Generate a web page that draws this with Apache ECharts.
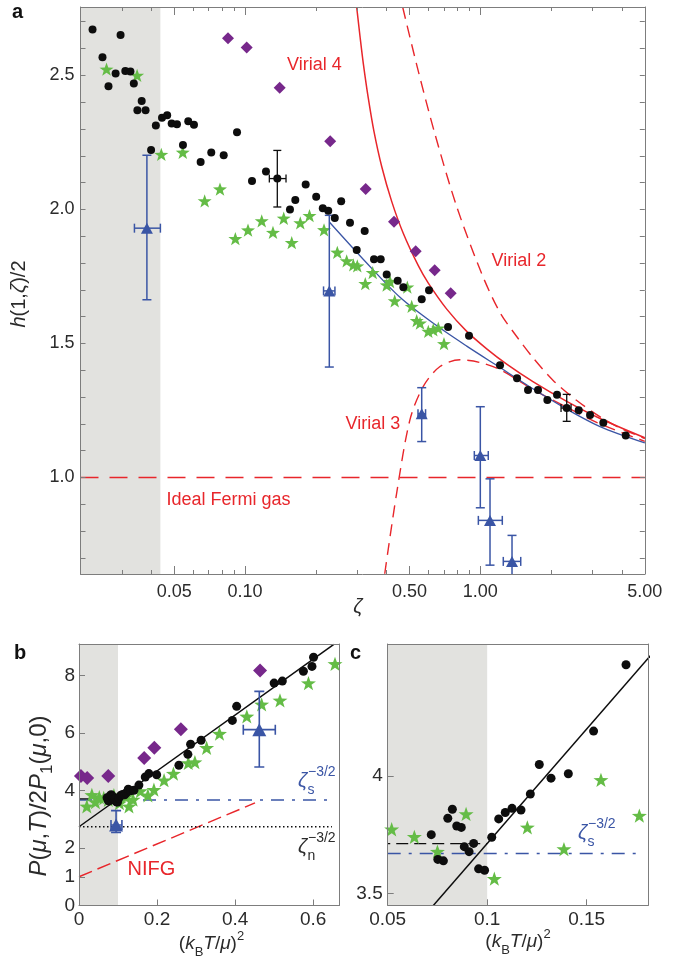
<!DOCTYPE html>
<html><head><meta charset="utf-8">
<script src="https://cdn.jsdelivr.net/npm/echarts@6/dist/echarts.min.js"></script>
<style>html,body{margin:0;padding:0;background:#fff}#c{width:679px;height:956px}</style>
</head><body><div id="c"></div>
<script>
// ---------- Panel a data: [zeta, h/2] ----------
const aBlack = [[0.0225,2.671],[0.0296,2.651],[0.0248,2.568],[0.0282,2.507],[0.0263,2.459],[0.0310,2.516],[0.0326,2.514],[0.0337,2.470],[0.0364,2.404],[0.0349,2.370],[0.0378,2.370],[0.0418,2.313],[0.0444,2.342],[0.0467,2.351],[0.0488,2.320],[0.0514,2.318],[0.0574,2.329],[0.0607,2.316],[0.0399,2.222],[0.0545,2.240],[0.0648,2.177],[0.0719,2.212],[0.0812,2.202],[0.0925,2.288],[0.1071,2.106],[0.1228,2.141],[0.1811,2.093],[0.1636,2.035],[0.1553,2.000],[0.2007,2.047],[0.2141,2.004],[0.2259,1.995],[0.2408,1.968],[0.2563,2.030],[0.2794,1.950],[0.3226,1.919],[0.2984,1.849],[0.3534,1.814],[0.3773,1.814],[0.4001,1.757],[0.4456,1.734],[0.4709,1.710],[0.6053,1.698],[0.5636,1.665],[0.7292,1.561],[0.8953,1.529],[1.2126,1.419],[1.4322,1.370],[1.5948,1.326],[1.759,1.326],[1.927,1.289],[2.118,1.309],[2.619,1.251],[2.926,1.233],[3.332,1.204],[4.149,1.157]];
// [zeta, v, zetaLo, zetaHi, vLo, vHi]
const aBlackErr = [[0.1372,2.115,0.1269,0.1494,2.009,2.220],[2.329,1.259,2.203,2.43,1.2095,1.31]];
const aStars = [[0.0258,2.523],[0.0348,2.500],[0.0441,2.205],[0.0544,2.213],[0.0674,2.032],[0.0783,2.076],[0.0910,1.891],[0.1030,1.923],[0.1178,1.957],[0.1315,1.914],[0.1461,1.967],[0.1580,1.876],[0.1718,1.950],[0.1880,1.977],[0.2167,1.924],[0.2468,1.840],[0.2705,1.808],[0.2886,1.793],[0.3001,1.789],[0.3489,1.764],[0.3245,1.723],[0.4001,1.718],[0.4132,1.731],[0.4896,1.710],[0.4327,1.659],[0.5110,1.638],[0.5366,1.585],[0.5543,1.576],[0.6012,1.545],[0.6313,1.551],[0.6629,1.557],[0.7008,1.499]];
const aDiamonds = [[0.0847,2.638],[0.1017,2.604],[0.1404,2.454],[0.2302,2.254],[0.3258,2.076],[0.4298,1.954],[0.5314,1.844],[0.6399,1.773],[0.7485,1.687]];
const aTriangles = [[0.0383,1.930,0.0339,0.0437,1.663,2.202],[0.2282,1.696,0.2157,0.2411,1.412,1.978],[0.5636,1.238,0.5435,0.5853,1.134,1.335],[1.000,1.082,0.943,1.081,0.887,1.264],[1.0995,0.840,0.981,1.240,0.673,0.995],[1.3637,0.687,1.252,1.485,0.55,0.784]];
const virial4 = [[0.2984,2.753],[0.3082,2.645],[0.3182,2.545],[0.3342,2.415],[0.3534,2.290],[0.381,2.160],[0.4201,2.030],[0.4709,1.910],[0.5451,1.790],[0.6012,1.725],[0.72,1.628],[0.8755,1.545],[1.0646,1.480],[1.2944,1.423],[1.68,1.357],[2.329,1.284],[3.227,1.220],[5.0,1.148]];
const virial2 = [[0.468,2.754],[0.54,2.530],[0.642,2.280],[0.794,2.010],[1.014,1.760],[1.213,1.615],[1.43,1.525],[1.68,1.445],[2.04,1.362],[2.57,1.287],[3.23,1.226],[3.92,1.185],[5.0,1.145]];
const virial3 = [[0.3925,0.641],[0.4413,0.943],[0.5025,1.216],[0.5725,1.34],[0.674,1.414],[0.82,1.439],[0.997,1.429],[1.213,1.402],[1.68,1.328],[2.329,1.262],[3.227,1.200],[5.0,1.135]];
const theoryBlue = [[0.2282,1.953],[0.329,1.800],[0.4557,1.672],[0.6313,1.575],[0.8755,1.490],[1.213,1.410],[1.68,1.330],[2.329,1.255],[3.227,1.190],[5.0,1.129]];
const idealFermi = [[0.02,1.0],[5.0,1.0]];
const aShade = [0.02,0.0437];
const aXMajor = [0.05,0.1,0.5,1,5];
const aXMinor = [0.03,0.04,0.06,0.07,0.08,0.09,0.2,0.3,0.4,0.6,0.7,0.8,0.9,2,3,4];
const aYLabels = [1.0,1.5,2.0,2.5];
const aYTicks = [0.7,0.8,0.9,1.0,1.1,1.2,1.3,1.4,1.5,1.6,1.7,1.8,1.9,2.0,2.1,2.2,2.3,2.4,2.5,2.6,2.7];

// ---------- Panel c data: [(kT/mu)^2, P/2P1] ----------
const cBlack = [[0.0719,3.750],[0.0752,3.645],[0.0780,3.639],[0.0802,3.820],[0.0825,3.858],[0.0847,3.787],[0.0870,3.781],[0.0885,3.699],[0.0909,3.678],[0.0932,3.713],[0.0957,3.605],[0.0987,3.599],[0.1023,3.739],[0.1058,3.817],[0.1091,3.844],[0.1125,3.862],[0.1170,3.855],[0.1217,3.923],[0.1262,4.048],[0.1321,3.990],[0.1408,4.009],[0.1535,4.190],[0.1698,4.472]];
const cStars = [[0.0520,3.773],[0.0634,3.741],[0.0750,3.678],[0.0894,3.838],[0.1036,3.563],[0.1202,3.781],[0.1386,3.689],[0.1572,3.983],[0.1765,3.831]];
// ---------- Panel b extra data ----------
const bBlackExtra = [[0.179,4.59],[0.199,4.55],[0.256,4.88],[0.279,5.26],[0.286,5.61],[0.313,5.75],[0.393,6.44],[0.404,6.93],[0.500,7.74],[0.521,7.81],[0.575,8.15],[0.597,8.32],[0.601,8.64]];
const bStarsExtra = [[0.020,3.45],[0.033,3.85],[0.042,3.60],[0.128,3.45],[0.192,4.03],[0.218,4.36],[0.242,4.59],[0.280,4.96],[0.297,4.99],[0.327,5.49],[0.360,5.98],[0.430,6.58],[0.468,7.00],[0.515,7.14],[0.588,7.74],[0.656,8.41]];
const bDiamonds = [[0.005,4.51],[0.021,4.44],[0.075,4.51],[0.167,5.13],[0.193,5.49],[0.261,6.13],[0.464,8.18]];
const bTriangles = [[0.095,2.8,0.082,0.11,2.54,3.3],[0.462,6.12,0.421,0.503,4.82,7.45]];
const fitLine = [[0,2.74],[0.653,9.09]];
const lowTLine = [[0,3.712],[0.1,3.712]];
const zetaSLineB = [[0,3.67],[0.65,3.67]];
const zetaSLineC = [[0.05,3.67],[0.178,3.67]];
const zetaNLine = [[0,2.74],[0.648,2.74]];
const nifgLine = [[0,1.0],[0.451,3.57]];
const bShade = [0,0.1];
const cShade = [0.05,0.1];
const bXLabels = [0,0.2,0.4,0.6];
const bYLabels = [0,1,2,4,6,8];
const cXLabels = [0.05,0.1,0.15];
const cYLabels = [3.5,4];

const L = Math.log10;
const FONT = '"Liberation Sans", Arial, Helvetica, sans-serif';
const RED='#e8262b', BLUE='#3a55a5', GREEN='#64bc46', PURPLE='#77288b', BLACK='#0d0d0d', GRAYBG='#e2e2df', AX='#7d7d7d', TXT='#2b2b2b';
const STAR='path://M0,-10L2.35,-3.24L9.51,-3.09L3.8,1.24L5.88,8.09L0,4L-5.88,8.09L-3.8,1.24L-9.51,-3.09L-2.35,-3.24Z';
const lg = arr => arr.map(p => [L(p[0]), p[1]]);

function xAx(grid, pos, min, max, o) {
  return Object.assign({gridIndex:grid, type:'value', position:pos, min:min, max:max, z:10,
    axisLine:{show:true, onZero:false, lineStyle:{color:AX, width:1}},
    axisTick:{show:false}, axisLabel:{show:false}, splitLine:{show:false}}, o||{});
}
function yAx(grid, pos, min, max, o) {
  return Object.assign({gridIndex:grid, type:'value', position:pos, min:min, max:max, z:10,
    axisLine:{show:true, onZero:false, lineStyle:{color:AX, width:1}},
    axisTick:{show:false}, axisLabel:{show:false}, splitLine:{show:false}}, o||{});
}
const tick = (vals, len) => ({show:true, inside:true, length:len, customValues:vals, lineStyle:{color:AX, width:1}});
const lab = (vals, fmt, size, margin) => ({show:true, customValues:vals, formatter:fmt, fontSize:size, color:TXT, fontFamily:FONT, margin:margin});

const xAxes = [
  xAx(0,'bottom',L(0.02),L(5),{axisTick:tick(aXMajor.map(L),8), axisLabel:lab(aXMajor.map(L), v=>Math.pow(10,v).toFixed(2), 18, 9)}),
  xAx(0,'bottom',L(0.02),L(5),{axisLine:{show:false}, axisTick:tick(aXMinor.map(L),4)}),
  xAx(0,'top',L(0.02),L(5),{axisTick:tick(aXMajor.map(L),8)}),
  xAx(0,'top',L(0.02),L(5),{axisLine:{show:false}, axisTick:tick(aXMinor.map(L),4)}),
  xAx(1,'bottom',0,0.667,{axisTick:tick([0.2,0.4,0.6],6), axisLabel:lab(bXLabels, v=> v===0?'0':v.toFixed(1), 19, 5)}),
  xAx(1,'top',0,0.667),
  xAx(2,'bottom',0.05,0.181,{axisTick:tick([0.1,0.15],6), axisLabel:lab(cXLabels, v=> String(+v.toFixed(2)), 19, 5)}),
  xAx(2,'top',0.05,0.181)
];
const yAxes = [
  yAx(0,'left',0.64,2.755,{axisTick:tick(aYTicks,5), axisLabel:lab(aYLabels, v=>v.toFixed(1), 18, 6)}),
  yAx(0,'right',0.64,2.755,{axisTick:tick(aYTicks,5)}),
  yAx(1,'left',0,9.1,{axisTick:tick([1,2,4,6,8],6), axisLabel:lab(bYLabels, v=>String(v), 19, 4)}),
  yAx(1,'right',0,9.1),
  yAx(2,'left',3.45,4.56,{axisTick:tick([3.5,4],6), axisLabel:lab(cYLabels, v=>String(v), 19, 5)}),
  yAx(2,'right',3.45,4.56)
];

function shade(xi, yi, rng) {
  return {type:'line', xAxisIndex:xi, yAxisIndex:yi, data:[], z:1, silent:true,
    markArea:{silent:true, itemStyle:{color:GRAYBG}, data:[[{xAxis:rng[0]},{xAxis:rng[1]}]]}};
}
function line(xi, yi, data, color, width, type, smooth, z) {
  return {type:'line', xAxisIndex:xi, yAxisIndex:yi, data:data, showSymbol:false, symbol:'none', silent:true,
    smooth:smooth||false, z:z||2,
    lineStyle:{color:color, width:width, type:type||'solid', cap:'butt', join:'round'}};
}
function scat(xi, yi, data, sym, size, color, z) {
  return {type:'scatter', xAxisIndex:xi, yAxisIndex:yi, data:data, symbol:sym, symbolSize:size, silent:true, z:z||3,
    itemStyle:{color:color, opacity:1}};
}
function errSeries(xi, yi, data, color, cap, lw) {
  return {type:'custom', xAxisIndex:xi, yAxisIndex:yi, clip:true, z:4, silent:true, data:data,
    encode:{x:[0,2,3], y:[1,4,5]},
    renderItem:function(params, api){
      const x=api.value(0), y=api.value(1), x0=api.value(2), x1=api.value(3), y0=api.value(4), y1=api.value(5);
      const a=api.coord([x0,y]), b=api.coord([x1,y]), c=api.coord([x,y0]), d=api.coord([x,y1]);
      const st={stroke:color, lineWidth:lw, fill:null};
      const h=cap;
      return {type:'group', children:[
        {type:'line', shape:{x1:c[0],y1:c[1],x2:d[0],y2:d[1]}, style:st},
        {type:'line', shape:{x1:c[0]-h,y1:c[1],x2:c[0]+h,y2:c[1]}, style:st},
        {type:'line', shape:{x1:d[0]-h,y1:d[1],x2:d[0]+h,y2:d[1]}, style:st},
        {type:'line', shape:{x1:a[0],y1:a[1],x2:b[0],y2:b[1]}, style:st},
        {type:'line', shape:{x1:a[0],y1:a[1]-h,x2:a[0],y2:a[1]+h}, style:st},
        {type:'line', shape:{x1:b[0],y1:b[1]-h,x2:b[0],y2:b[1]+h}, style:st}
      ]};
    }};
}
const lgErr = arr => arr.map(d => [L(d[0]), d[1], L(d[2]), L(d[3]), d[4], d[5]]);

const series = [
  // panel a
  shade(0,0,aShade.map(L)),
  line(0,0,lg(idealFermi),RED,1.4,[18,11]),
  line(0,0,lg(virial2),RED,1.4,[12,7],0.3),
  line(0,0,lg(virial3),RED,1.4,[12,7],0.3),
  line(0,0,lg(virial4),RED,1.5,'solid',0.3),
  line(0,0,lg(theoryBlue),BLUE,1.3,'solid',0.3),
  scat(0,0,lg(aStars),STAR,[14,13.3],GREEN,3),
  scat(0,0,lg(aBlack),'circle',8,BLACK,4),
  errSeries(0,0,lgErr(aBlackErr),BLACK,4,1.3),
  scat(0,0,lg(aBlackErr.map(d=>[d[0],d[1]])),'circle',8,BLACK,5),
  scat(0,0,lg(aDiamonds),'diamond',[12,12],PURPLE,4),
  errSeries(0,0,lgErr(aTriangles),BLUE,4.5,1.5),
  scat(0,0,lg(aTriangles.map(d=>[d[0],d[1]])),'triangle',[12,11],BLUE,5),
  // panel b
  shade(4,2,bShade),
  line(4,2,nifgLine,RED,1.5,[14,6]),
  line(4,2,zetaNLine,BLACK,1.5,[1.5,2.5]),
  line(4,2,zetaSLineB,BLUE,1.4,[13,8,3,8]),
  line(4,2,lowTLine,BLACK,1.4,[10,5]),
  line(4,2,fitLine,BLACK,1.5),
  scat(4,2,cStars.concat(bStarsExtra),STAR,[15,14.3],GREEN,3),
  scat(4,2,cBlack.concat(bBlackExtra),'circle',9,BLACK,4),
  scat(4,2,bDiamonds,'diamond',[14,14],PURPLE,4),
  errSeries(4,2,bTriangles,BLUE,5,1.6),
  scat(4,2,bTriangles.map(d=>[d[0],d[1]]),'triangle',[14,13],BLUE,5),
  // panel c
  shade(6,4,cShade),
  line(6,4,zetaSLineC,BLUE,1.4,[13,8,3,8]),
  line(6,4,lowTLine,BLACK,1.4,[12,6]),
  line(6,4,fitLine,BLACK,1.5),
  scat(6,4,cStars,STAR,[15,14.3],GREEN,3),
  scat(6,4,cBlack,'circle',9,BLACK,4)
];

function T(x, y, text, o) {
  o = o || {};
  return {type:'text', x:x, y:y, rotation:o.rot||0, z:20, silent:true,
    style:{text:text, fill:o.fill||TXT, fontSize:o.size||18, fontFamily:FONT, fontStyle:o.italic?'italic':'normal',
      fontWeight:o.bold?'bold':'normal', align:o.align||'left', verticalAlign:'middle', lineHeight:o.lh, rich:o.rich}};
}
function richStyles(size, fill) {
  return {
    i:{fontStyle:'italic', fontSize:size, fontFamily:FONT, fill:fill, lineHeight:size+10},
    n:{fontSize:size, fontFamily:FONT, fill:fill, lineHeight:size+10},
    sub:{fontSize:Math.round(size*0.7), fontFamily:FONT, fill:fill, verticalAlign:'bottom', lineHeight:Math.round(size*0.7)},
    sup:{fontSize:Math.round(size*0.7), fontFamily:FONT, fill:fill, verticalAlign:'top', lineHeight:Math.round(size*0.7)}
  };
}
function zetaLabel(x, y, sub, color) {
  return [
    T(x, y, 'ζ', {italic:true, size:20, fill:color}),
    T(x+10, y-9, '−3/2', {size:14, fill:color}),
    T(x+9.5, y+9, sub, {size:14, fill:color})
  ];
}

const graphics = [
  T(12, 12, 'a', {bold:true, size:20, fill:'#111'}),
  T(14, 653, 'b', {bold:true, size:20, fill:'#111'}),
  T(350, 653, 'c', {bold:true, size:20, fill:'#111'}),
  T(287, 65, 'Virial 4', {fill:RED, size:18}),
  T(491.5, 261, 'Virial 2', {fill:RED, size:18}),
  T(345.5, 424, 'Virial 3', {fill:RED, size:18}),
  T(166.5, 500.5, 'Ideal Fermi gas', {fill:RED, size:18}),
  T(358, 607, 'ζ', {italic:true, size:20, align:'center'}),
  T(19, 294, '{i|h}{n|(1,}{i|ζ}{n|)/2}', {size:20, align:'center', rot:Math.PI/2, rich:richStyles(20,TXT)}),
  T(127.5, 869, 'NIFG', {fill:RED, size:20}),
  T(39, 796, '{i|P}{n|(}{i|μ}{n|,}{i|T}{n|)/2}{i|P}{sub|1}{n|(}{i|μ}{n|,0)}', {size:24, align:'center', rot:Math.PI/2, rich:richStyles(24,TXT)}),
  T(211.5, 944, '{n|(}{i|k}{sub|B}{i|T}{n|/}{i|μ}{n|)}{sup|2}', {size:19, align:'center', rich:richStyles(19,TXT)}),
  T(518, 942, '{n|(}{i|k}{sub|B}{i|T}{n|/}{i|μ}{n|)}{sup|2}', {size:19, align:'center', rich:richStyles(19,TXT)})
].concat(zetaLabel(298, 781, 's', BLUE), zetaLabel(298, 847, 'n', TXT), zetaLabel(578, 833, 's', BLUE));

const chart = echarts.init(document.getElementById('c'), null, {renderer:'canvas'});
chart.setOption({
  animation:false,
  backgroundColor:'#fff',
  grid:[
    {left:80.5, top:7, width:564.3, height:567, outerBoundsMode:'none'},
    {left:79, top:644, width:260.3, height:261.5, outerBoundsMode:'none'},
    {left:387.7, top:644, width:260.6, height:261.3, outerBoundsMode:'none'}
  ],
  xAxis:xAxes,
  yAxis:yAxes,
  series:series,
  graphic:graphics
});
</script></body></html>
